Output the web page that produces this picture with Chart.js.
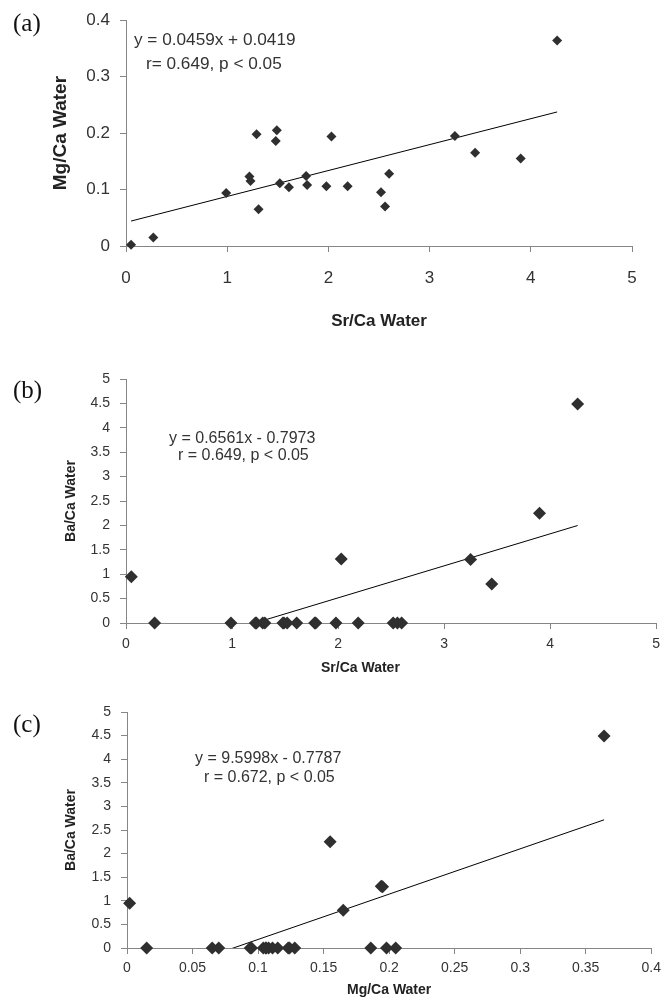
<!DOCTYPE html>
<html>
<head>
<meta charset="utf-8">
<script src="https://cdn.jsdelivr.net/npm/chart.js@4.4.0/dist/chart.umd.min.js"></script>
<style>
  html, body { margin: 0; padding: 0; background: #fff; }
  #page { position: relative; width: 667px; height: 999px; overflow: hidden; font-family: "Liberation Sans", Arial, sans-serif; }
  canvas { position: absolute; left: 0; }
  .tag { position: absolute; left: 13px; font-family: "Liberation Serif", "Times New Roman", serif; font-size: 25px; line-height: 25px; color: #111; }
  .eq { position: absolute; white-space: nowrap; color: #333; }
  .axtitle { position: absolute; white-space: nowrap; color: #222; font-weight: bold; font-size: 14px; line-height: 16px; }
</style>
</head>
<body>
<div id="page">
  <canvas id="chartA" width="667" height="336" style="top:0px"></canvas>
  <canvas id="chartB" width="667" height="340" style="top:336px"></canvas>
  <canvas id="chartC" width="667" height="323" style="top:676px"></canvas>

  <div class="tag" style="top:10px">(a)</div>
  <div class="tag" style="top:377px">(b)</div>
  <div class="tag" style="top:711px">(c)</div>

  <div class="eq" style="left:134px; top:29px; font-size:17.2px; line-height:20px">y = 0.0459x + 0.0419</div>
  <div class="eq" style="left:146px; top:53px; font-size:17.2px; line-height:20px">r= 0.649, p &lt; 0.05</div>
  <div class="eq" style="left:169px; top:430px; font-size:16px; line-height:16px">y = 0.6561x - 0.7973</div>
  <div class="eq" style="left:178px; top:447px; font-size:16px; line-height:16px">r = 0.649, p &lt; 0.05</div>
  <div class="eq" style="left:195px; top:750px; font-size:16px; line-height:16px">y = 9.5998x - 0.7787</div>
  <div class="eq" style="left:204px; top:769px; font-size:16px; line-height:16px">r = 0.672, p &lt; 0.05</div>

  <!-- panel (b) x title sits left of the plot centre in the original -->
  <div class="axtitle" style="left:321px; top:659px">Sr/Ca Water</div>
</div>

<script>
// water ratios, one entry per sample
const srCa = [0.05, 0.27, 0.99, 1.22, 1.23, 1.29, 1.31, 1.49, 1.48, 1.52, 1.61, 1.78,
              1.79, 1.98, 2.03, 2.19, 2.52, 2.56, 2.60, 3.25, 3.45, 3.90, 4.26];
const mgCa = [0.002, 0.015, 0.094, 0.123, 0.115, 0.198, 0.065, 0.205, 0.186, 0.111, 0.104, 0.124,
              0.108, 0.106, 0.194, 0.106, 0.095, 0.070, 0.128, 0.195, 0.165, 0.155, 0.364];
const baCa = [0.95, 0, 0, 0, 0, 0, 0, 0, 0, 0, 0, 0,
              0, 0, 1.31, 0, 0, 0, 0, 1.30, 0.80, 2.25, 4.49];

// linear fits as printed on the figure: [slope, intercept]
const fitA = [0.0459, 0.0419];
const fitB = [0.6561, -0.7973];
const fitC = [9.5998, -0.7787];

const axisGrey = '#868686';
const markColor = '#2f2f2f';
const fontFamily = '"Liberation Sans", Arial, sans-serif';

function pairs(xs, ys) {
    return xs.map((x, i) => ({ x: x, y: ys[i] }));
}

function fitLine(xs, fit) {
    const lo = Math.min(...xs), hi = Math.max(...xs);
    return [{ x: lo, y: fit[0] * lo + fit[1] }, { x: hi, y: fit[0] * hi + fit[1] }];
}

function tickText(v) {
    return String(parseFloat(v.toFixed(3)));
}

function makeChart(id, cfg) {
    const ctx = document.getElementById(id).getContext('2d');
    return new Chart(ctx, {
        type: 'scatter',
        data: {
            datasets: [{
                data: pairs(cfg.xs, cfg.ys),
                pointStyle: 'rectRot',
                pointRadius: cfg.markSize,
                pointHoverRadius: cfg.markSize,
                backgroundColor: markColor,
                borderColor: markColor,
                borderWidth: 0,
                clip: false
            }, {
                data: fitLine(cfg.xs, cfg.fit),
                showLine: true,
                borderColor: '#000',
                borderWidth: 1,
                pointRadius: 0,
                pointHoverRadius: 0,
                fill: false,
                clip: 0
            }]
        },
        options: {
            responsive: false,
            animation: false,
            events: [],
            layout: { padding: cfg.pad },
            plugins: { legend: { display: false }, tooltip: { enabled: false } },
            scales: {
                x: {
                    type: 'linear', min: cfg.xMin, max: cfg.xMax,
                    ticks: { stepSize: cfg.xStep, color: '#333', padding: cfg.xTickPad,
                             font: { family: fontFamily, size: cfg.tickSize }, callback: tickText },
                    grid: { drawOnChartArea: false, drawTicks: true, tickLength: 6, color: axisGrey },
                    border: { display: true, color: axisGrey, width: 1 },
                    title: { display: cfg.xTitle !== '', text: cfg.xTitle, color: '#222', padding: { top: 0, bottom: 0 },
                             font: { family: fontFamily, size: cfg.xTitleSize, weight: 'bold' } },
                    afterFit: s => { s.height = cfg.xAxisHeight; }
                },
                y: {
                    type: 'linear', min: cfg.yMin, max: cfg.yMax,
                    ticks: { stepSize: cfg.yStep, color: '#333', padding: 10,
                             font: { family: fontFamily, size: cfg.tickSize }, callback: tickText },
                    grid: { drawOnChartArea: false, drawTicks: true, tickLength: 6, color: axisGrey },
                    border: { display: true, color: axisGrey, width: 1 },
                    title: { display: true, text: cfg.yTitle, color: '#222', padding: { top: cfg.yTitlePad, bottom: 0 },
                             font: { family: fontFamily, size: cfg.yTitleSize, weight: 'bold' } },
                    afterFit: s => { s.width = cfg.yAxisWidth; }
                }
            }
        }
    });
}

// (a) Mg/Ca vs Sr/Ca
makeChart('chartA', {
    xs: srCa, ys: mgCa, fit: fitA, markSize: 5,
    xMin: 0, xMax: 5, xStep: 1, yMin: 0, yMax: 0.4, yStep: 0.1,
    xTitle: 'Sr/Ca Water', yTitle: 'Mg/Ca Water',
    tickSize: 17, xTitleSize: 17, yTitleSize: 19,
    xTickPad: 16, xAxisHeight: 86, yAxisWidth: 126, yTitlePad: 49,
    pad: { left: 0, right: 35, top: 18, bottom: 4 }
});

// (b) Ba/Ca vs Sr/Ca  (x title drawn as HTML above)
makeChart('chartB', {
    xs: srCa, ys: baCa, fit: fitB, markSize: 6.5,
    xMin: 0, xMax: 5, xStep: 1, yMin: 0, yMax: 5, yStep: 0.5,
    xTitle: '', yTitle: 'Ba/Ca Water',
    tickSize: 14, xTitleSize: 14, yTitleSize: 14,
    xTickPad: 7, xAxisHeight: 51, yAxisWidth: 126, yTitlePad: 63,
    pad: { left: 0, right: 5, top: 43, bottom: 2 }
});

// (c) Ba/Ca vs Mg/Ca
makeChart('chartC', {
    xs: mgCa, ys: baCa, fit: fitC, markSize: 6.5,
    xMin: 0, xMax: 0.4, xStep: 0.05, yMin: 0, yMax: 5, yStep: 0.5,
    xTitle: 'Mg/Ca Water', yTitle: 'Ba/Ca Water',
    tickSize: 14, xTitleSize: 14, yTitleSize: 14,
    xTickPad: 6, xAxisHeight: 51, yAxisWidth: 127, yTitlePad: 63,
    pad: { left: 0, right: 12, top: 36, bottom: 0 }
});
</script>
</body>
</html>
